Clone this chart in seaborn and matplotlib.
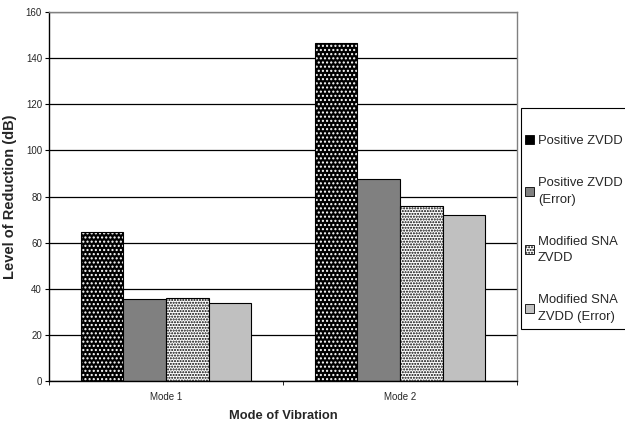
import matplotlib
matplotlib.use("Agg")
import matplotlib.pyplot as plt
from matplotlib.patches import Patch, Rectangle
import pandas as pd
import seaborn as sns

modes = ["Mode 1", "Mode 2"]
series = ["Positive ZVDD", "Positive ZVDD\n(Error)", "Modified SNA\nZVDD", "Modified SNA\nZVDD (Error)"]
reduction = {
    "Positive ZVDD": [64.5, 146.6],
    "Positive ZVDD\n(Error)": [35.7, 87.5],
    "Modified SNA\nZVDD": [36.1, 75.7],
    "Modified SNA\nZVDD (Error)": [33.8, 72.0],
}
y_ticks = list(range(0, 161, 20))

# long-form table for seaborn
rows = []
for s in series:
    for m, v in zip(modes, reduction[s]):
        rows.append({"mode": m, "series": s, "value": v})
df = pd.DataFrame(rows)

# face colour, hatch, hatch colour per series
styles = [("black", "....", "white"),
          ("#808080", None, None),
          ("white", "......", "black"),
          ("#c0c0c0", None, None)]

sns.set_style("white")
plt.rcParams["font.family"] = ["Liberation Sans", "DejaVu Sans"]
plt.rcParams["hatch.linewidth"] = 1.0

fig = plt.figure(figsize=(6.25, 4.21), dpi=100)
ax = fig.add_axes([0.0784, 0.095, 0.827 - 0.0784, 0.9715 - 0.095])

sns.barplot(data=df, x="mode", y="value", hue="series", hue_order=series,
            palette=[st[0] for st in styles], width=0.73, gap=0,
            saturation=1, legend=False, ax=ax)

# apply hatching; bars come grouped by hue
for i, container in enumerate(ax.containers):
    face, hatch, hcol = styles[i]
    for p in container:
        p.set_edgecolor("black")
        p.set_linewidth(0.8)
        if hatch:
            p.set_hatch(hatch)
            p._hatch_color = matplotlib.colors.to_rgba(hcol)

ax.set_ylim(0, 160)
ax.set_yticks(y_ticks)
ax.set_xlim(-0.5, 1.5)
ax.set_xticks([0, 1])
ax.set_xticklabels(modes)
ax.set_xticks([-0.5, 0.5, 1.5], minor=True)
ax.tick_params(axis="x", which="major", length=0, labelsize=7, pad=8)
ax.tick_params(axis="x", which="minor", length=3, direction="out", color="black", bottom=True)
ax.tick_params(axis="y", length=3, direction="out", color="black", left=True, labelsize=7, pad=2)
ax.yaxis.grid(True, color="black", linewidth=0.9)
ax.set_axisbelow(True)

ax.spines["left"].set_color("black")
ax.spines["bottom"].set_color("black")
ax.spines["top"].set_color("#808080")
ax.spines["right"].set_color("#808080")
for sp in ax.spines.values():
    sp.set_linewidth(1.0)

ax.set_xlabel("Mode of Vibration", fontsize=9.3, fontweight="bold", labelpad=6)
ax.set_ylabel("Level of Reduction (dB)", fontsize=10.5, fontweight="bold", labelpad=6)

# legend box drawn separately (it runs off the right edge)
fig.patches.append(Rectangle((521 / 625, 1 - 329 / 421), 0.2, 221 / 421,
                             transform=fig.transFigure, facecolor="white",
                             edgecolor="black", linewidth=0.8, zorder=1))

handles = []
for (face, hatch, hcol), s in zip(styles, series):
    h = Patch(facecolor=face, edgecolor="black", linewidth=0.6, hatch=hatch, label=s)
    handles.append(h)
leg = fig.legend(handles=handles, loc="upper left", bbox_to_anchor=(525 / 625, 1 - 135 / 421),
                 fontsize=9.4, frameon=False,
                 handlelength=0.7, handleheight=0.7, handletextpad=0.3,
                 labelspacing=2.3, borderpad=0, borderaxespad=0)
for t in leg.get_texts():
    t.set_linespacing(1.5)
leg.set_zorder(2)

fig.savefig("out.png", dpi=100)
